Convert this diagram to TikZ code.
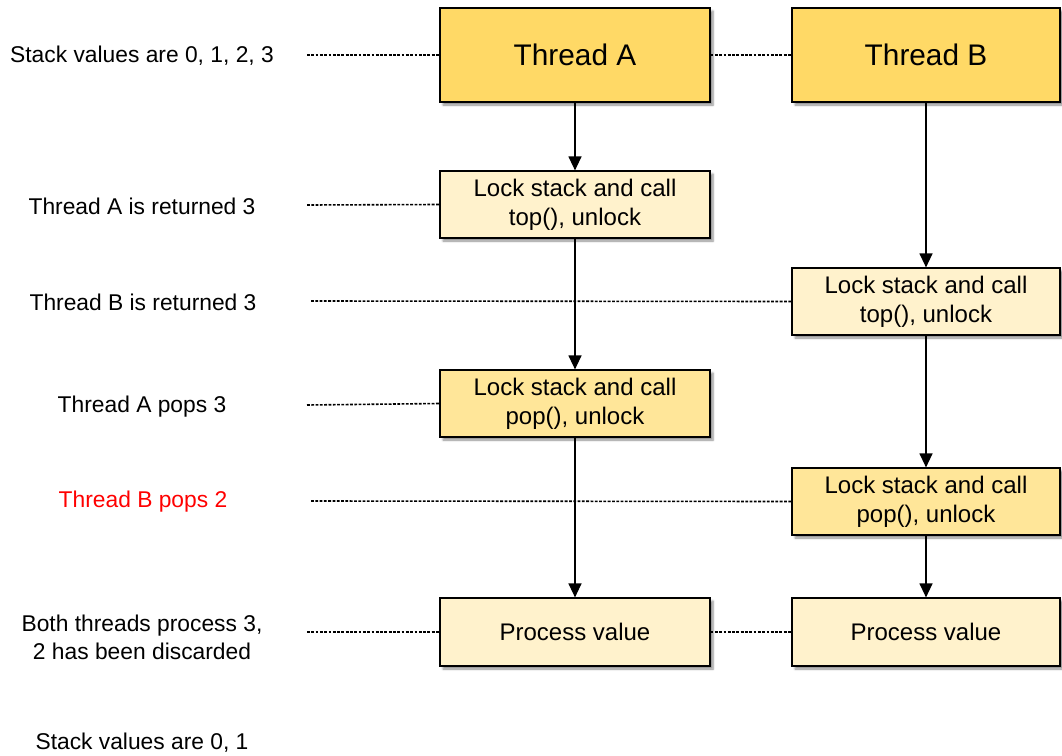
\documentclass[tikz,border=0pt]{standalone}
\usepackage{fontspec}
\setmainfont{Liberation Sans}
\usetikzlibrary{arrows.meta,shadows.blur}
\definecolor{goldA}{HTML}{FFD966}
\definecolor{goldB}{HTML}{FFE699}
\definecolor{goldC}{HTML}{FFF2CC}
\definecolor{redlab}{HTML}{FF0000}
\tikzset{
  boxbase/.style={draw=black, line width=1.2pt, inner sep=0pt, align=center,
    blur shadow={shadow xshift=3pt, shadow yshift=-3pt, shadow blur steps=6, shadow opacity=45}},
  threadbox/.style={boxbase, fill=goldA, minimum width=270pt, minimum height=94pt,
    font=\fontsize{29.8}{35}\selectfont},
  lockbox/.style={boxbase, fill=goldC, minimum width=270pt, minimum height=67pt,
    font=\fontsize{24}{29}\selectfont},
  popbox/.style={lockbox, fill=goldB},
  lab/.style={align=center, inner sep=0pt, font=\fontsize{22.8}{28}\selectfont},
  dotline/.style={line width=1.6pt, dash pattern=on 2.8pt off 1.5pt},
  flow/.style={line width=1.3pt, -{Triangle[length=14pt,width=13pt]}}
}
\begin{document}
\begin{tikzpicture}[x=1pt,y=-1pt]
\useasboundingbox (0,0) rectangle (1062,755);
% left labels
\node[lab] (l1) at (142,56) {Stack values are 0, 1, 2, 3};
\node[lab] (l2) at (142,206) {Thread A is returned 3};
\node[lab] (l3) at (143,302) {Thread B is returned 3};
\node[lab] (l4) at (142,407) {Thread A pops 3};
\node[lab, text=redlab] (l5) at (143,502) {Thread B pops 2};
\node[lab] (l6) at (142,637) {Both threads process 3,\\2 has been discarded};
\node[lab] (l7) at (142,743) {Stack values are 0, 1};
% dotted line start points
\coordinate (d1) at (307,55);
\coordinate (d2) at (307,205);
\coordinate (d3) at (311,301);
\coordinate (d4) at (307,405);
\coordinate (d5) at (311,501);
\coordinate (d6) at (307,632);
% boxes
\node[threadbox] (ta) at (575,55) {Thread A};
\node[threadbox, minimum width=268pt] (tb) at (926,55) {Thread B};
\node[lockbox] (a1) at (575,204.5) {Lock stack and call\\top(), unlock};
\node[lockbox, minimum width=268pt] (b1) at (926,301.5) {Lock stack and call\\top(), unlock};
\node[popbox] (a2) at (575,403.5) {Lock stack and call\\pop(), unlock};
\node[popbox, minimum width=268pt] (b2) at (926,501.5) {Lock stack and call\\pop(), unlock};
\node[lockbox, minimum height=68pt] (a3) at (575,632) {Process value};
\node[lockbox, minimum width=268pt, minimum height=68pt] (b3) at (926,632) {Process value};
% dotted lines
\draw[dotline] (d1) -- (ta.west);
\draw[dotline] (ta.east) -- (tb.west);
\draw[dotline] (d2) -- (a1.west);
\draw[dotline] (d3) -- (b1.west);
\draw[dotline] (d4) -- (a2.west);
\draw[dotline] (d5) -- (b2.west);
\draw[dotline] (d6) -- (a3.west);
\draw[dotline] (a3.east) -- (b3.west);
% flow arrows
\draw[flow] (ta.south) -- (a1.north);
\draw[flow] (a1.south) -- (a2.north);
\draw[flow] (a2.south) -- (a3.north);
\draw[flow] (tb.south) -- (b1.north);
\draw[flow] (b1.south) -- (b2.north);
\draw[flow] (b2.south) -- (b3.north);
\end{tikzpicture}
\end{document}
